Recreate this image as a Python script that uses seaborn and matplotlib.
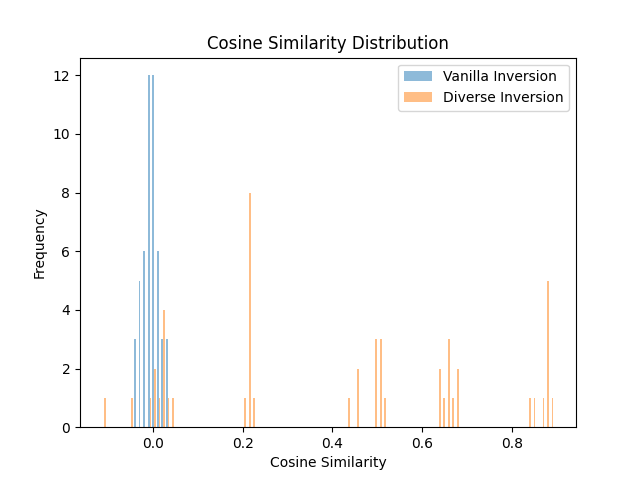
import numpy as np
import pandas as pd
import seaborn as sns
import matplotlib
matplotlib.use("Agg")
import matplotlib.pyplot as plt
from matplotlib.patches import Patch

# cosine similarity values, with how often each occurs
vanilla_values = [-0.037, -0.027, -0.017, -0.007, 0.003, 0.013, 0.023, 0.033]
vanilla_counts = [3, 5, 6, 12, 12, 6, 3, 3]

diverse_values = [-0.1126, -0.047, -0.007, 0.003, 0.013, 0.023, 0.033, 0.043,
                  0.204, 0.214, 0.224,
                  0.435, 0.455, 0.496, 0.506, 0.516,
                  0.636, 0.646, 0.657, 0.667, 0.677,
                  0.838, 0.848, 0.868, 0.878, 0.8928]
diverse_counts = [1, 1, 1, 2, 1, 4, 1, 1,
                  1, 8, 1,
                  1, 2, 3, 3, 1,
                  2, 1, 3, 1, 2,
                  1, 1, 1, 5, 1]

labels = ["Vanilla Inversion", "Diverse Inversion"]
colors = ["#1f77b4", "#ff7f0e"]

vanilla = np.repeat(vanilla_values, vanilla_counts)
diverse = np.repeat(diverse_values, diverse_counts)

df = pd.DataFrame({
    "similarity": np.concatenate([vanilla, diverse]),
    "method": [labels[0]] * len(vanilla) + [labels[1]] * len(diverse),
})

fig, ax = plt.subplots(figsize=(6.4, 4.8), dpi=100)
sns.histplot(data=df, x="similarity", hue="method", hue_order=labels,
             palette=colors, bins=100, multiple="dodge", shrink=0.8,
             alpha=0.5, linewidth=0, legend=False, ax=ax)

handles = [Patch(facecolor=c, alpha=0.5, label=l) for c, l in zip(colors, labels)]
ax.legend(handles=handles, loc="upper right")
ax.set_title("Cosine Similarity Distribution")
ax.set_xlabel("Cosine Similarity")
ax.set_ylabel("Frequency")

plt.savefig("out.png")
